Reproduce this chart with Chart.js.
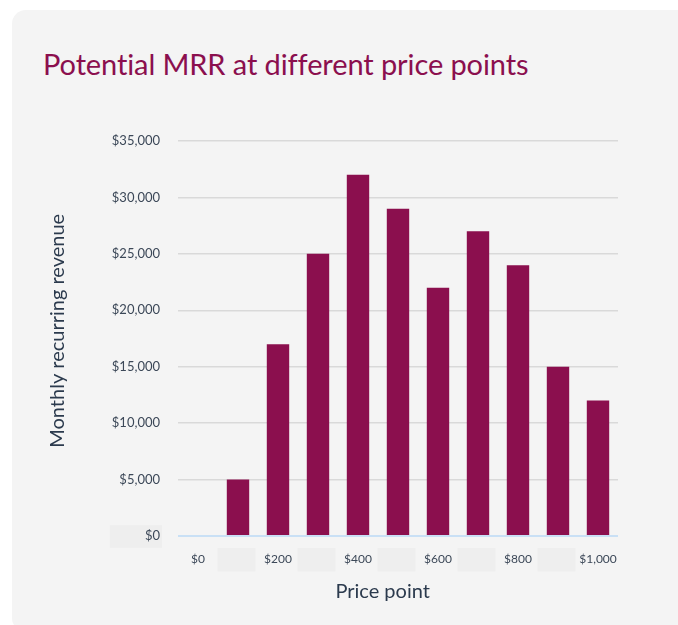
<!DOCTYPE html>
<html>
<head>
<meta charset="utf-8">
<script src="https://cdn.jsdelivr.net/npm/chart.js@4/dist/chart.umd.min.js"></script>
<style>
  html, body { margin: 0; padding: 0; background: #ffffff; width: 678px; height: 625px; overflow: hidden; }
  #card { position: absolute; left: 12px; top: 10px; width: 680px; height: 622px; background: #f4f4f4; border-radius: 14px; }
  #title { position: absolute; left: 43px; top: 46px; margin: 0; font-family: Lato, sans-serif; font-weight: 400; font-size: 29px; color: #8b0f4e; white-space: nowrap; letter-spacing: -0.1px; }
  #wrap { position: absolute; left: 12px; top: 10px; width: 666px; height: 612px; }
</style>
</head>
<body>
<div id="card"></div>
<div id="title">Potential MRR at different price points</div>
<div id="wrap"><canvas id="c"></canvas></div>
<script>
const categories = ['$0', '$100', '$200', '$300', '$400', '$500', '$600', '$700', '$800', '$900', '$1,000'];
const mrrValues = [0, 5000, 17000, 25000, 32000, 29000, 22000, 27000, 24000, 15000, 12000];
const yTickLabels = ['$0', '$5,000', '$10,000', '$15,000', '$20,000', '$25,000', '$30,000', '$35,000'];
const xAxisTitle = 'Price point';
const yAxisTitle = 'Monthly recurring revenue';

const BAR = '#8b0f4e';
const TXT = '#3c4858';

new Chart(document.getElementById('c'), {
  type: 'bar',
  data: {
    labels: categories,
    datasets: [{
      data: mrrValues,
      backgroundColor: BAR,
      borderWidth: 0,
      barPercentage: 0.56,
      categoryPercentage: 1.0
    }]
  },
  options: {
    responsive: true,
    maintainAspectRatio: false,
    animation: false,
    layout: { padding: { left: 30, right: 60, top: 131, bottom: 14 } },
    plugins: { legend: { display: false }, tooltip: { enabled: false }, title: { display: false } },
    scales: {
      x: {
        grid: { display: false, drawTicks: false },
        border: { display: false },
        ticks: {
          autoSkip: false,
          maxRotation: 0,
          padding: 16,
          color: TXT,
          font: { family: 'Lato', size: 12 },
          callback: (v, i) => (i % 2 === 0 ? categories[i] : ' '),
          showLabelBackdrop: (ctx) => ctx.index % 2 === 1,
          backdropColor: '#eeeeee',
          backdropPadding: { left: 19, right: 16, top: 4, bottom: 5 }
        },
        title: { display: true, text: xAxisTitle + '      ', color: '#2b3a4d', font: { family: 'Lato', size: 20 } },
        afterFit: (s) => { s.height = 72; }
      },
      y: {
        min: 0, max: 35000,
        grid: {
          drawTicks: false,
          color: (ctx) => (ctx.tick && ctx.tick.value === 0 ? '#c9e0f5' : '#d9d9d9'),
          lineWidth: (ctx) => (ctx.tick && ctx.tick.value === 0 ? 2 : 1.5)
        },
        border: { display: false },
        ticks: {
          stepSize: 5000,
          padding: 18,
          color: TXT,
          font: { family: 'Lato', size: 13 },
          callback: (v, i) => yTickLabels[i],
          showLabelBackdrop: (ctx) => ctx.index === 0,
          backdropColor: '#eeeeee',
          backdropPadding: { left: 35, right: 2, top: 3, bottom: 4 }
        },
        title: { display: true, text: '   ' + yAxisTitle, color: '#2b3a4d', font: { family: 'Lato', size: 20 } },
        afterFit: (s) => { s.width = 136; }
      }
    }
  }
});
</script>
</body>
</html>
